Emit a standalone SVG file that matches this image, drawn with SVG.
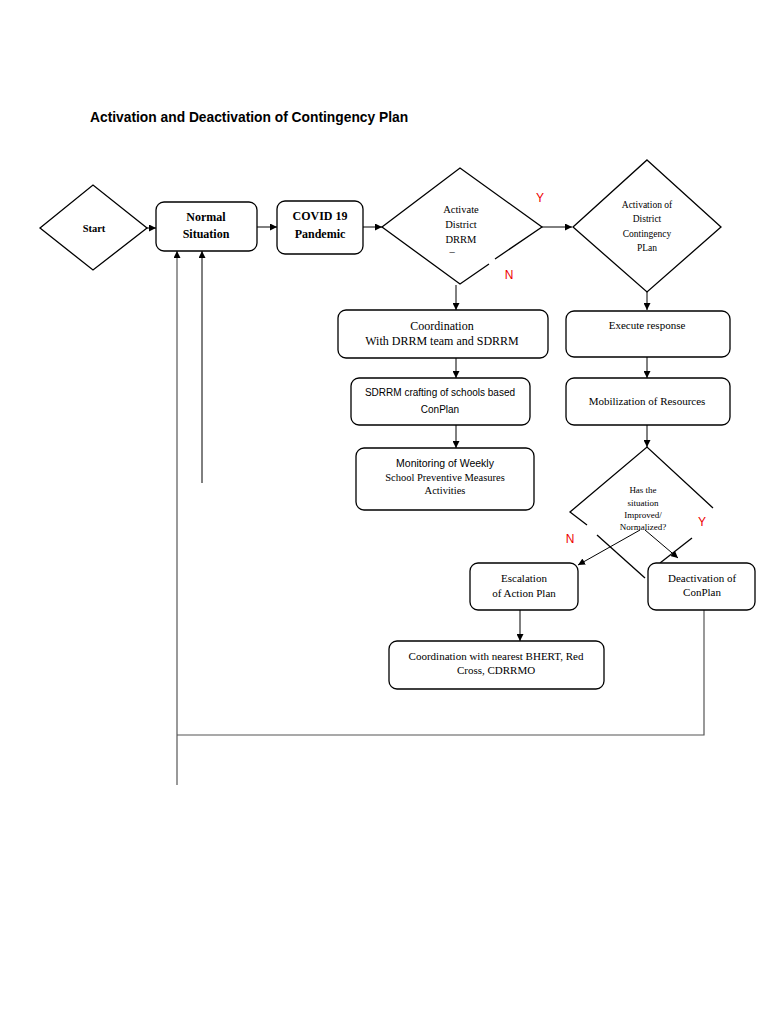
<svg xmlns="http://www.w3.org/2000/svg" width="768" height="1024" viewBox="0 0 768 1024">
<style>
.box{fill:#fff;stroke:#000;stroke-width:1.3}
.dia{fill:#fff;stroke:#000;stroke-width:1.3;stroke-linejoin:miter}
.edge{fill:none;stroke:#000;stroke-width:1}
.ret{fill:none;stroke:#555;stroke-width:1.2}
.t{font-family:"Liberation Serif","Times New Roman",serif;font-size:11px;fill:#000;text-anchor:middle}
.tb{font-family:"Liberation Serif","Times New Roman",serif;font-size:12px;font-weight:bold;fill:#000;text-anchor:middle}
.ts{font-family:"Liberation Sans",Arial,sans-serif;font-size:10px;fill:#000;text-anchor:middle}
.sm{font-family:"Liberation Serif","Times New Roman",serif;font-size:9.5px;fill:#000;text-anchor:middle}
.red{font-family:"Liberation Sans",Arial,sans-serif;font-size:12px;fill:#e00;text-anchor:middle}
.title{font-family:"Liberation Sans",Arial,sans-serif;font-size:13.8px;font-weight:bold;fill:#000}
</style>
<defs>
<marker id="ah" viewBox="0 0 10 10" refX="10" refY="5" markerWidth="7" markerHeight="7" markerUnits="userSpaceOnUse" orient="auto">
<path d="M0,0 L10,5 L0,10 z" fill="#000"/>
</marker>
</defs>
<rect width="768" height="1024" fill="#fff"/>
<text class="title" x="90" y="122">Activation and Deactivation of Contingency Plan</text>

<g id="connectors">
<line class="edge" x1="147" y1="228" x2="156" y2="228" marker-end="url(#ah)"/>
<line class="edge" x1="257" y1="227" x2="277" y2="227" marker-end="url(#ah)"/>
<line class="edge" x1="363" y1="227" x2="382" y2="227" marker-end="url(#ah)"/>
<line class="edge" x1="530" y1="227" x2="572" y2="227" marker-end="url(#ah)"/>
<line class="edge" x1="456" y1="285" x2="456" y2="310" marker-end="url(#ah)"/>
<line class="edge" x1="647" y1="292" x2="647" y2="310" marker-end="url(#ah)"/>
<line class="edge" x1="456" y1="358" x2="456" y2="378" marker-end="url(#ah)"/>
<line class="edge" x1="647" y1="357" x2="647" y2="378" marker-end="url(#ah)"/>
<line class="edge" x1="456" y1="425" x2="456" y2="448" marker-end="url(#ah)"/>
<line class="edge" x1="647" y1="425" x2="647" y2="447" marker-end="url(#ah)"/>
<line class="edge" x1="640" y1="530" x2="578" y2="565" marker-end="url(#ah)"/>
<line class="edge" x1="645" y1="530" x2="678" y2="558" marker-end="url(#ah)"/>
<line class="edge" x1="520" y1="610" x2="520" y2="641" marker-end="url(#ah)"/>
<polyline class="ret" points="704,610 704,735 177,735"/>
<line class="ret" x1="177" y1="785" x2="177" y2="251" marker-end="url(#ah)"/>
<line class="edge" x1="202" y1="483" x2="202" y2="251" marker-end="url(#ah)"/>
</g>

<g id="start">
<polygon class="dia" points="40,228 93,185 147,228 93,270"/>
<text class="tb" x="94" y="232" style="font-size:10.5px">Start</text>
</g>

<g id="normal">
<rect class="box" x="156" y="202" width="101" height="49" rx="8"/>
<text class="tb" x="206" y="221">Normal</text>
<text class="tb" x="206" y="238">Situation</text>
</g>

<g id="covid">
<rect class="box" x="277" y="201" width="86" height="53" rx="8"/>
<text class="tb" x="320" y="220">COVID 19</text>
<text class="tb" x="320" y="238">Pandemic</text>
</g>

<g id="activate">
<path class="dia" d="M495,259 L542,227 L460,168 L382,227 L460,284 L489,264"/>
<text class="t" x="461" y="213" style="font-size:10.5px">Activate</text>
<text class="t" x="461" y="228" style="font-size:10.5px">District</text>
<text class="t" x="461" y="243" style="font-size:10.5px">DRRM</text>
<text class="t" x="452" y="255" style="font-size:10.5px">–</text>
<text class="red" x="540" y="202">Y</text>
<text class="red" x="509" y="279">N</text>
</g>

<g id="activation">
<polygon class="dia" points="647,160 721,227 647,292 573,227"/>
<text class="sm" x="647" y="208">Activation of</text>
<text class="sm" x="647" y="222">District</text>
<text class="sm" x="647" y="237">Contingency</text>
<text class="sm" x="647" y="251">PLan</text>
</g>

<g id="coordination">
<rect class="box" x="338" y="310" width="210" height="48" rx="8"/>
<text class="t" x="442" y="330" style="font-size:12px">Coordination</text>
<text class="t" x="442" y="345" style="font-size:12px">With DRRM team  and SDRRM</text>
</g>

<g id="sdrrm">
<rect class="box" x="351" y="378" width="179" height="47" rx="8"/>
<text class="ts" x="440" y="396">SDRRM crafting of schools based</text>
<text class="ts" x="440" y="413">ConPlan</text>
</g>

<g id="monitoring">
<rect class="box" x="356" y="448" width="178" height="62" rx="8"/>
<text class="ts" x="445" y="467" style="font-size:10.5px">Monitoring of Weekly</text>
<text class="t" x="445" y="481" style="font-size:10.5px">School Preventive Measures</text>
<text class="t" x="445" y="494" style="font-size:10.5px">Activities</text>
</g>

<g id="execute">
<rect class="box" x="566" y="311" width="164" height="46" rx="8"/>
<text class="t" x="647" y="329">Execute response</text>
</g>

<g id="mobilization">
<rect class="box" x="566" y="378" width="164" height="47" rx="8"/>
<text class="t" x="647" y="405">Mobilization of Resources</text>
</g>

<g id="improved">
<path class="dia" d="M587,525 L570,512 L647,447 L713,508"/>
<path class="dia" d="M597,535 L645,578"/>
<path class="dia" d="M692,538 L660,563"/>
<text class="sm" x="643" y="493" style="font-size:9px">Has the</text>
<text class="sm" x="643" y="506" style="font-size:9px">situation</text>
<text class="sm" x="643" y="518" style="font-size:9px">Improved/</text>
<text class="sm" x="643" y="530" style="font-size:9px">Normalized?</text>
<text class="red" x="570" y="543">N</text>
<text class="red" x="702" y="526">Y</text>
</g>

<g id="escalation">
<rect class="box" x="470" y="563" width="108" height="47" rx="8"/>
<text class="t" x="524" y="582">Escalation</text>
<text class="t" x="524" y="597">of Action Plan</text>
</g>

<g id="deactivation">
<rect class="box" x="648" y="563" width="107" height="47" rx="8"/>
<text class="t" x="702" y="582">Deactivation of</text>
<text class="t" x="702" y="596">ConPlan</text>
</g>

<g id="nearest">
<rect class="box" x="389" y="641" width="215" height="48" rx="8"/>
<text class="t" x="496" y="660">Coordination with nearest BHERT, Red</text>
<text class="t" x="496" y="674">Cross, CDRRMO</text>
</g>
</svg>
